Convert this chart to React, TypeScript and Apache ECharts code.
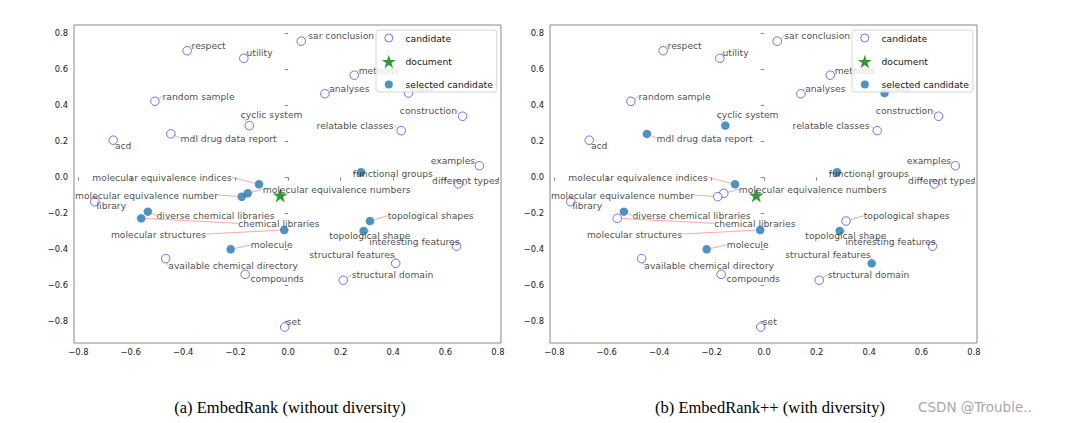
import React, { useEffect, useRef } from 'react';
import * as echarts from 'echarts';

// ---- data ----
const keywords = [
  'respect', 'utility', 'sar conclusion', 'random sample', 'methods', 'analyses', 'class',
  'cyclic system', 'construction', 'relatable classes', 'mdl drug data report', 'acd',
  'examples', 'functional groups', 'different types', 'molecular equivalence indices',
  'molecular equivalence numbers', 'molecular equivalence number', 'library',
  'diverse chemical libraries', 'chemical libraries', 'molecular structures', 'molecule',
  'available chemical directory', 'compounds', 'topological shapes', 'topological shape',
  'interesting features', 'structural features', 'structural domain', 'set',
];
const xs = [
  -0.385, -0.169, 0.05, -0.508, 0.252, 0.14, 0.459,
  -0.148, 0.665, 0.431, -0.447, -0.667,
  0.729, 0.278, 0.649, -0.111,
  -0.154, -0.177, -0.737,
  -0.535, -0.56, -0.015, -0.219,
  -0.467, -0.164, 0.312, 0.288,
  0.642, 0.41, 0.21, -0.013,
];
const ys = [
  0.703, 0.661, 0.756, 0.422, 0.567, 0.464, 0.468,
  0.287, 0.339, 0.259, 0.241, 0.206,
  0.064, 0.028, -0.037, -0.039,
  -0.089, -0.108, -0.136,
  -0.191, -0.228, -0.293, -0.4,
  -0.452, -0.539, -0.243, -0.298,
  -0.383, -0.478, -0.572, -0.832,
];
const selectedA = [
  'molecular equivalence indices', 'molecular equivalence numbers', 'molecular equivalence number',
  'diverse chemical libraries', 'chemical libraries', 'molecular structures', 'molecule',
  'functional groups', 'topological shapes', 'topological shape',
];
const selectedB = [
  'mdl drug data report', 'cyclic system', 'molecular equivalence indices',
  'diverse chemical libraries', 'molecular structures', 'molecule', 'class',
  'functional groups', 'topological shape', 'structural features',
];
const documentPoint = [-0.03, -0.1];
const tickValues = [-0.8, -0.6, -0.4, -0.2, 0.0, 0.2, 0.4, 0.6, 0.8];
const legendNames = ['candidate', 'document', 'selected candidate'];
const captions = ['(a) EmbedRank (without diversity)', '(b) EmbedRank++ (with diversity)'];
const watermark = 'CSDN @Trouble..';

// ---- layout / style (pixel offsets of each annotation from its point) ----
const labelOffsets: Record<string, [number, number]> = {
  'respect': [4.4, -5.7],
  'utility': [2.7, -5.6],
  'sar conclusion': [7, -5.6],
  'random sample': [7.7, -5.3],
  'methods': [4.4, -5],
  'analyses': [4.3, -5.7],
  'class': [2.3, -5.7],
  'cyclic system': [-8.6, -11],
  'construction': [-62.7, -6],
  'relatable classes': [-84.6, -5.4],
  'mdl drug data report': [9.7, 4.3],
  'acd': [1.7, 5],
  'examples': [-48.6, -5.4],
  'functional groups': [-8.3, 1.4],
  'different types': [-26.3, -3.7],
  'molecular equivalence indices': [-166.7, -7],
  'molecular equivalence numbers': [15, -4],
  'molecular equivalence number': [-166.7, -1.7],
  'library': [1.7, 3.3],
  'diverse chemical libraries': [8.7, 4],
  'chemical libraries': [97, 5],
  'molecular structures': [-173.3, 4],
  'molecule': [20, -4.3],
  'available chemical directory': [2.6, 7.3],
  'compounds': [5.4, 4.7],
  'topological shapes': [17.7, -5.3],
  'topological shape': [-34.4, 4.7],
  'interesting features': [-87.4, -4.6],
  'structural features': [-86.4, -8.6],
  'structural domain': [8.4, -5.3],
  'set': [2, -5.3],
};

const FONT = 'DejaVu Sans';
const SPINE = '#888';
const TEXT = '#161616';
const BLUE_EDGE = 'rgba(0,0,255,0.7)';
const SEL = '#1f77b4';
const GREEN = '#008000';
const XMIN = -0.8164, XMAX = 0.8115;
const YMIN = -0.9207, YMAX = 0.846;
const GRID_LEFTS = [74, 550];
const LEGEND_LEFTS = [376, 852];
const CAPTION_X = [290, 770];

const STAR =
  'path://M100,0L77.55,69.1L4.9,69.1L63.67,111.8L41.22,180.9L100,138.2L158.78,180.9L136.33,111.8L195.1,69.1L122.45,69.1Z';
const ICON_CIRCLE = 'path://M0,0M20,15M4.3,7.5a4,4 0 1,0 8,0a4,4 0 1,0 -8,0Z';
const ICON_STAR =
  'path://M0,0M20,15M8.3,0.81L6.64,5.92L1.26,5.92L5.61,9.08L3.95,14.19L8.3,11.03L12.65,14.19L10.99,9.08L15.34,5.92L9.96,5.92Z';

const fmtTick = (v: number) => {
  const k = Math.round(v * 5);
  if (Math.abs(v * 5 - k) > 1e-6) return '';
  const s = (Math.abs(k) / 5).toFixed(1);
  return k < 0 ? '\u2212' + s : s;
};

function panelSeries(p: number, selected: string[]) {
  const cand: any[] = [];
  const sel: any[] = [];
  keywords.forEach((k, i) => {
    const item = { name: k, value: [xs[i], ys[i]] };
    (selected.includes(k) ? sel : cand).push(item);
  });
  const mkLayout = (items: any[]) => (params: any) => {
    const o = labelOffsets[items[params.dataIndex].name] || [4, -5];
    return {
      x: params.rect.x + params.rect.width / 2 + o[0],
      y: params.rect.y + params.rect.height / 2 + o[1],
      align: 'left',
      verticalAlign: 'middle',
    };
  };
  const label = { show: true, formatter: '{b}', color: TEXT, fontSize: 9.2, fontFamily: FONT };
  const labelLine = { show: true, lineStyle: { color: 'rgba(255,60,60,0.45)', width: 1 } };
  return [
    {
      type: 'scatter', name: 'candidate', xAxisIndex: p, yAxisIndex: p, data: cand,
      symbol: 'circle', symbolSize: 8.5,
      itemStyle: { color: '#fff', borderColor: BLUE_EDGE, borderWidth: 1 },
      label, labelLine, labelLayout: mkLayout(cand), emphasis: { disabled: true }, z: 2,
    },
    {
      type: 'scatter', name: 'document', xAxisIndex: p, yAxisIndex: p, data: [documentPoint],
      symbol: STAR, symbolSize: [15, 14.3], itemStyle: { color: GREEN },
      emphasis: { disabled: true }, z: 3,
    },
    {
      type: 'scatter', name: 'selected candidate', xAxisIndex: p, yAxisIndex: p, data: sel,
      symbol: 'circle', symbolSize: 8.5, itemStyle: { color: SEL },
      label, labelLine, labelLayout: mkLayout(sel), emphasis: { disabled: true }, z: 3,
    },
  ];
}

function axis(kind: 'x' | 'y', p: number) {
  return {
    type: 'value',
    gridIndex: p,
    min: kind === 'x' ? XMIN : YMIN,
    max: kind === 'x' ? XMAX : YMAX,
    minInterval: 0.2,
    maxInterval: 0.2,
    splitLine: { show: false },
    axisLine: { show: false },
    axisTick: {
      show: true, inside: false, length: 3.5, customValues: tickValues,
      lineStyle: { color: SPINE, width: 1 },
    },
    axisLabel: {
      customValues: tickValues,
      formatter: fmtTick, color: TEXT, fontSize: 8.4, fontFamily: FONT,
      margin: kind === 'x' ? 5 : 6,
    },
  };
}

export default function App() {
  const ref = useRef<HTMLDivElement>(null);
  useEffect(() => {
    if (!ref.current) return;
    const chart = echarts.init(ref.current, null, { renderer: 'svg' });
    const legendData = [
      { name: legendNames[0], icon: ICON_CIRCLE, itemStyle: { color: '#fff', borderColor: BLUE_EDGE, borderWidth: 1 } },
      { name: legendNames[1], icon: ICON_STAR, itemStyle: { color: GREEN, borderWidth: 0 } },
      { name: legendNames[2], icon: ICON_CIRCLE, itemStyle: { color: SEL, borderWidth: 0 } },
    ];
    chart.setOption({
      animation: false,
      backgroundColor: '#fff',
      textStyle: { fontFamily: FONT },
      grid: GRID_LEFTS.map((l) => ({
        left: l, top: 25, width: 427, height: 318,
        show: true, borderColor: SPINE, borderWidth: 1, backgroundColor: 'transparent',
      })),
      xAxis: [axis('x', 0), axis('x', 1)],
      yAxis: [axis('y', 0), axis('y', 1)],
      legend: LEGEND_LEFTS.map((l) => ({
        left: l, top: 30, orient: 'vertical',
        itemWidth: 20, itemHeight: 15, itemGap: 8,
        padding: [0, 4, 0, 4],
        backgroundColor: 'rgba(255,255,255,0.8)',
        borderColor: '#d6d6d6', borderWidth: 1, borderRadius: 3,
        selectedMode: false,
        textStyle: { color: TEXT, fontSize: 9.2, fontFamily: FONT },
        data: legendData,
      })),
      graphic: [
        ...captions.map((c, i) => ({
          type: 'text', x: CAPTION_X[i], y: 407,
          style: {
            text: c, align: 'center', verticalAlign: 'middle',
            font: '16.5px "Liberation Serif"', fill: '#000',
          },
        })),
        {
          type: 'text', x: 918, y: 407,
          style: {
            text: watermark, align: 'left', verticalAlign: 'middle',
            font: '13.5px "DejaVu Sans"', fill: '#a8a8a8',
          },
        },
      ],
      series: [...panelSeries(0, selectedA), ...panelSeries(1, selectedB)],
    });
    return () => chart.dispose();
  }, []);
  return (
    <div
      ref={ref}
      style={{ position: 'fixed', left: 0, top: 0, width: 1070, height: 423, background: '#fff' }}
    />
  );
}
